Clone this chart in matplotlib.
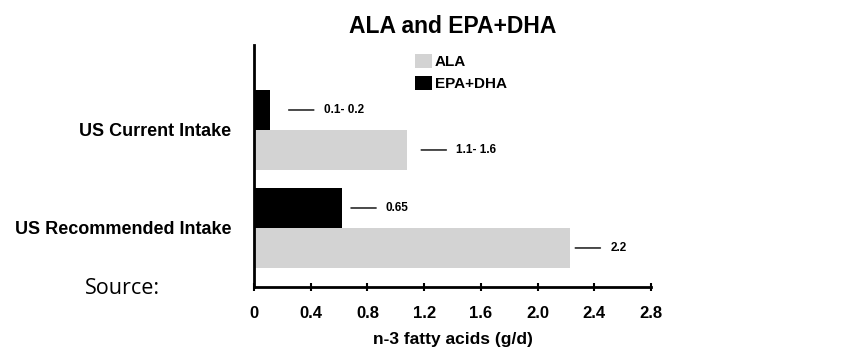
import matplotlib.pyplot as plt
import numpy as np

plt.rcParams['font.family'] = ['Liberation Sans', 'DejaVu Sans']

# data
categories = ["US Recommended Intake", "US Current Intake"]
ala = [2.23, 1.08]
epa_dha = [0.62, 0.11]
ala_labels = ["2.2", "1.1- 1.6"]
epa_labels = ["0.65", "0.1- 0.2"]
xticks = [0, 0.4, 0.8, 1.2, 1.6, 2.0, 2.4, 2.8]
xtick_labels = ["0", "0.4", "0.8", "1.2", "1.6", "2.0", "2.4", "2.8"]

fig = plt.figure(figsize=(8.53, 3.59), dpi=100)
ax = fig.add_axes([0.2978, 0.2006, 0.4654, 0.674])

y = np.arange(len(categories))
h = 0.408
ax.barh(y - h / 2, ala, height=h, color="#d3d3d3", label="ALA")
ax.barh(y + h / 2, epa_dha, height=h, color="black", label="EPA+DHA")

# value labels with a short leader line (gaps in pixels)
gaps_ala = [5, 14]
gaps_epa = [9, 19]
for i in range(len(categories)):
    for val, lab, gap, yy in [(ala[i], ala_labels[i], gaps_ala[i], y[i] - h / 2),
                              (epa_dha[i], epa_labels[i], gaps_epa[i], y[i] + h / 2)]:
        ax.annotate(lab, xy=(val, yy), xytext=(gap + 35, 0), textcoords="offset pixels",
                    va="center", ha="left", fontsize=8.5, fontweight="bold",
                    arrowprops=dict(arrowstyle="-", lw=1, color="black",
                                    shrinkA=5, shrinkB=gap * 0.72))

ax.set_xlim(0, 2.8)
ax.set_ylim(-0.602, 1.867)
ax.set_xticks(xticks)
ax.set_xticklabels(xtick_labels, fontsize=12, fontweight="bold")
ax.set_yticks(y)
ax.set_yticklabels(categories, fontsize=13, fontweight="bold")
ax.tick_params(axis="y", length=0, pad=16.5)
ax.tick_params(axis="x", direction="inout", length=6, width=1.5, pad=10.5)

for s in ["top", "right"]:
    ax.spines[s].set_visible(False)
for s in ["left", "bottom"]:
    ax.spines[s].set_linewidth(2)

ax.set_xlabel("n-3 fatty acids (g/d)", fontsize=12.5, fontweight="bold", labelpad=8)
ax.set_title("ALA and EPA+DHA", fontsize=16.5, fontweight="bold", pad=8.5)

ax.legend(loc="upper left", bbox_to_anchor=(415 / 853, 1 - 54 / 359),
          bbox_transform=fig.transFigure, frameon=False,
          prop={"weight": "bold", "size": 11}, handlelength=1.1, handleheight=1.05,
          handletextpad=0.2, labelspacing=0.45, borderaxespad=0, borderpad=0)

fig.text(85 / 853, 1 - 288 / 359, "Source:", fontsize=15.5, family="Open Sans",
         va="center", ha="left")

fig.savefig("out.png", dpi=100)
